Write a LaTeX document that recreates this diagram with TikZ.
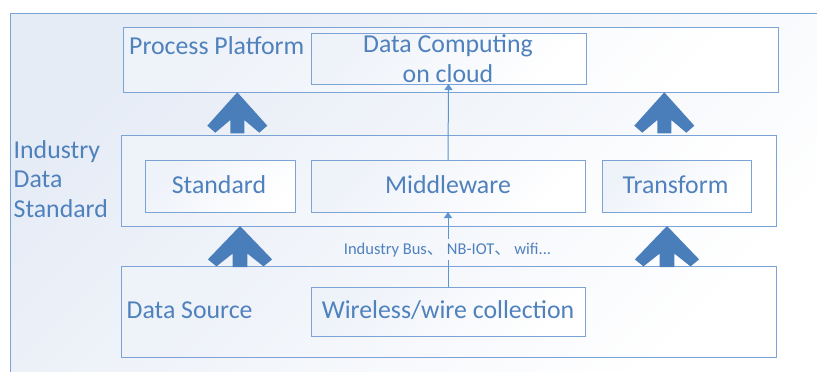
\documentclass[tikz,border=0pt]{standalone}
\usepackage{fontspec}
\setmainfont{Carlito}
\newfontfamily\cjkfont{Noto Sans CJK SC}
\usetikzlibrary{arrows.meta}

\definecolor{txtblue}{HTML}{4F81BD}
\definecolor{boxline}{HTML}{7BA3D6}
\definecolor{fatblue}{HTML}{4A7EBB}
\definecolor{thinblue}{HTML}{5B95D2}
\definecolor{tint}{HTML}{E6ECF6}
\definecolor{tintlight}{HTML}{EEF2F9}

\tikzset{
  panel/.style={draw=boxline, line width=1pt, inner sep=0pt, outer sep=0pt,
    top color=tintlight, bottom color=white, shading angle=45},
  lbl/.style={text=txtblue, font=\fontsize{25.8}{30}\selectfont, inner sep=0pt},
  smalllbl/.style={text=txtblue, font=\fontsize{16.5}{19}\selectfont, inner sep=3.5pt},
  link/.style={draw=thinblue, line width=1pt},
  linkhead/.style={link, -{Triangle[length=6pt,width=8pt]}},
  fatup/.pic={
    \fill[fatblue] (0,0) -- (30,33.4) -- (22,40.4) -- (7,27.7) -- (7,41)
      -- (-7,41) -- (-7,27.7) -- (-22,40.4) -- (-30,33.4) -- cycle;
  }
}

\begin{document}
\begin{tikzpicture}[x=1pt,y=-1pt]
\useasboundingbox (0,0) rectangle (817,372);

% outer frame, open to the right and bottom
\shade[top color=tint, bottom color=white, shading angle=45] (10,13) rectangle (817,372);
\draw[boxline, line width=1pt] (817,13) -- (10,13) -- (10,372);

% top layer
\node[panel, minimum width=655pt, minimum height=65pt] (platform) at (450.5,59.5) {};
\node[panel, minimum width=275pt, minimum height=51pt] (cloud) at (448.5,58.5) {};
\node[lbl, anchor=base west] (platformtxt) at (129,54) {Process Platform};
\node[lbl, anchor=base] (cloudtxtA) at (448,52) {Data Computing};
\node[lbl, anchor=base] (cloudtxtB) at (448,82) {on cloud};

% middle layer
\node[panel, minimum width=655pt, minimum height=91pt] (standardlayer) at (448.5,180.5) {};
\node[panel, minimum width=150pt, minimum height=52pt] (standard) at (220,186) {};
\node[panel, minimum width=274pt, minimum height=52pt] (middleware) at (448,186) {};
\node[panel, minimum width=149pt, minimum height=52pt] (transform) at (676.5,186) {};
\node[lbl, anchor=base west] (indA) at (13.5,158.3) {Industry};
\node[lbl, anchor=base west] (indB) at (13.5,187.5) {Data};
\node[lbl, anchor=base west] (indC) at (13.5,217.3) {Standard};
\node[lbl, anchor=base] (standardtxt) at (219,193) {Standard};
\node[lbl, anchor=base] (middlewaretxt) at (448,193) {Middleware};
\node[lbl, anchor=base] (transformtxt) at (675.5,193) {Transform};

% bottom layer
\node[panel, minimum width=655pt, minimum height=91pt] (source) at (448.5,311.5) {};
\node[panel, minimum width=274pt, minimum height=49pt] (wireless) at (448,311.5) {};
\node[lbl, anchor=base west] (sourcetxt) at (126.5,318) {Data Source};
\node[lbl, anchor=base] (wirelesstxt) at (448,318) {Wireless/wire collection};

% bus label
\node[smalllbl, anchor=base] (bus) at (447.5,254)
  {Industry Bus{\cjkfont 、}\hspace{3.5pt}NB-IOT{\cjkfont 、}\hspace{3.5pt}wifi...};

% thin data links
\draw[link] (wireless.north) -- (bus.south -| wireless.north);
\draw[linkhead] (bus.north -| wireless.north) -- (middleware.south);
\draw[linkhead] (middleware.north) -- (cloud.south);

% broad layer arrows
\pic at (237.3,92.3) {fatup};
\pic at (664.3,92.3) {fatup};
\pic[xscale=1.07] at (240,226) {fatup};
\pic[xscale=1.07] at (667,226) {fatup};
\end{tikzpicture}
\end{document}
